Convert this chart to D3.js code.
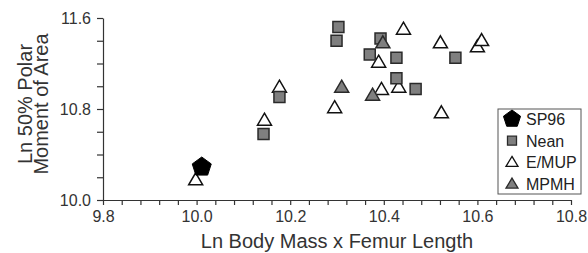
<!DOCTYPE html>
<html>
<head>
<meta charset="utf-8">
<script src="https://cdn.jsdelivr.net/npm/d3@7"></script>
<style>
  body { margin: 0; background: #fff; }
  text { font-family: "Liberation Sans", Arial, sans-serif; }
</style>
</head>
<body>
<div id="chart"></div>
<script>
// values
const sp96X = [10.011];
const sp96Y = [10.29];

const neanX = [10.143, 10.177, 10.303, 10.299, 10.393, 10.370, 10.427, 10.553, 10.427, 10.468];
const neanY = [10.58, 10.905, 11.52, 11.40, 11.42, 11.28, 11.25, 11.25, 11.07, 10.975];

const emupX = [9.998, 10.145, 10.177, 10.295, 10.442, 10.389, 10.521, 10.600, 10.609, 10.432, 10.395, 10.523];
const emupY = [10.176, 10.70, 10.99, 10.81, 11.50, 11.21, 11.38, 11.345, 11.40, 10.99, 10.97, 10.765];

const mpmhX = [10.310, 10.398, 10.376];
const mpmhY = [10.99, 11.38, 10.92];

const xTickLabels = ["9.8", "10.0", "10.2", "10.4", "10.6", "10.8"];
const yTickLabels = ["10.0", "10.8", "11.6"];
const legendNames = ["SP96", "Nean", "E/MUP", "MPMH"];

const width = 588, height = 253;
const margin = { top: 18, right: 17, bottom: 53, left: 103 };

const svg = d3.select("#chart").append("svg")
  .attr("width", width)
  .attr("height", height);

let xScale = d3.scaleLinear().domain([9.8, 10.8]).range([margin.left, width - margin.right]);
let yScale = d3.scaleLinear().domain([10.0, 11.6]).range([height - margin.bottom, margin.top]);

// minor ticks on x every 0.04, y every 0.2
let xTicks = d3.range(0, 26).map(i => +(9.8 + i * 0.04).toFixed(2));
let yTicks = d3.range(0, 9).map(i => +(10 + i * 0.2).toFixed(1));

let xAxis = d3.axisBottom(xScale)
  .tickValues(xTicks)
  .tickSize(5)
  .tickSizeOuter(0)
  .tickPadding(6)
  .tickFormat(d => xTickLabels.includes(d.toFixed(1)) && Math.abs(d * 5 - Math.round(d * 5)) < 1e-6 ? d.toFixed(1) : "");

let yAxis = d3.axisLeft(yScale)
  .tickValues(yTicks)
  .tickSize(6)
  .tickSizeOuter(0)
  .tickPadding(6)
  .tickFormat(d => yTickLabels.includes(d.toFixed(1)) ? d.toFixed(1) : "");

let gx = svg.append("g")
  .attr("transform", `translate(0, ${height - margin.bottom})`)
  .call(xAxis);
let gy = svg.append("g")
  .attr("transform", `translate(${margin.left}, 0)`)
  .call(yAxis);

[gx, gy].forEach(g => {
  g.selectAll("path, line").attr("stroke", "#333").attr("stroke-width", 1.2);
  g.selectAll("text").attr("fill", "#333").style("font-size", "16px");
});

// axis titles
svg.append("text")
  .attr("x", (xScale(9.8) + xScale(10.8)) / 2)
  .attr("y", 248)
  .attr("text-anchor", "middle")
  .attr("fill", "#333")
  .style("font-size", "20px")
  .text("Ln Body Mass x Femur Length");

let yTitle = svg.append("text")
  .attr("transform", `translate(32, 104) rotate(-90)`)
  .attr("text-anchor", "middle")
  .attr("fill", "#333")
  .style("font-size", "20px");
yTitle.append("tspan").attr("x", 0).attr("y", 0).text("Ln 50% Polar");
yTitle.append("tspan").attr("x", 0).attr("y", 16).text("Moment of Area");

// marker shapes
function pentagon(r) {
  let pts = d3.range(5).map(i => {
    let a = -Math.PI / 2 + i * 2 * Math.PI / 5;
    return [r * Math.cos(a), r * Math.sin(a)];
  });
  return "M" + pts.map(p => p.join(",")).join("L") + "Z";
}
function triangle(w, h) {
  return `M0,${-h * 0.6}L${w / 2},${h * 0.4}L${-w / 2},${h * 0.4}Z`;
}
function square(s) {
  return `M${-s / 2},${-s / 2}h${s}v${s}h${-s}Z`;
}

const styles = {
  SP96: { d: pentagon(10), fill: "#000", stroke: "#000", sw: 1 },
  Nean: { d: square(11), fill: "#7f7f7f", stroke: "#2a2a2a", sw: 1.5 },
  "E/MUP": { d: triangle(14, 12), fill: "#fff", stroke: "#111", sw: 1.5 },
  MPMH: { d: triangle(14, 12), fill: "#7f7f7f", stroke: "#2a2a2a", sw: 1.5 }
};

function drawGroup(name, xs, ys) {
  let st = styles[name];
  svg.append("g").selectAll("path")
    .data(xs.map((x, i) => ({ x: x, y: ys[i] })))
    .enter()
    .append("path")
    .attr("d", st.d)
    .attr("transform", d => `translate(${xScale(d.x)},${yScale(d.y)})`)
    .attr("fill", st.fill)
    .attr("stroke", st.stroke)
    .attr("stroke-width", st.sw);
}

drawGroup("E/MUP", emupX, emupY);
drawGroup("Nean", neanX, neanY);
drawGroup("MPMH", mpmhX, mpmhY);
drawGroup("SP96", sp96X, sp96Y);

// legend
let legend = svg.append("g").attr("transform", "translate(498, 109)");
legend.append("rect")
  .attr("width", 83)
  .attr("height", 85)
  .attr("fill", "#fff")
  .attr("stroke", "#555")
  .attr("stroke-width", 1);

let legendSizes = { SP96: pentagon(9), Nean: square(9), "E/MUP": triangle(12, 10), MPMH: triangle(12, 10) };
legendNames.forEach((name, i) => {
  let row = legend.append("g").attr("transform", `translate(14, ${10 + i * 21.7})`);
  let st = styles[name];
  row.append("path")
    .attr("d", legendSizes[name])
    .attr("fill", st.fill)
    .attr("stroke", st.stroke)
    .attr("stroke-width", name === "SP96" ? 1 : 1.3);
  row.append("text")
    .attr("x", 14)
    .attr("y", 6)
    .attr("fill", "#222")
    .style("font-size", "16px")
    .text(name);
});
</script>
</body>
</html>
